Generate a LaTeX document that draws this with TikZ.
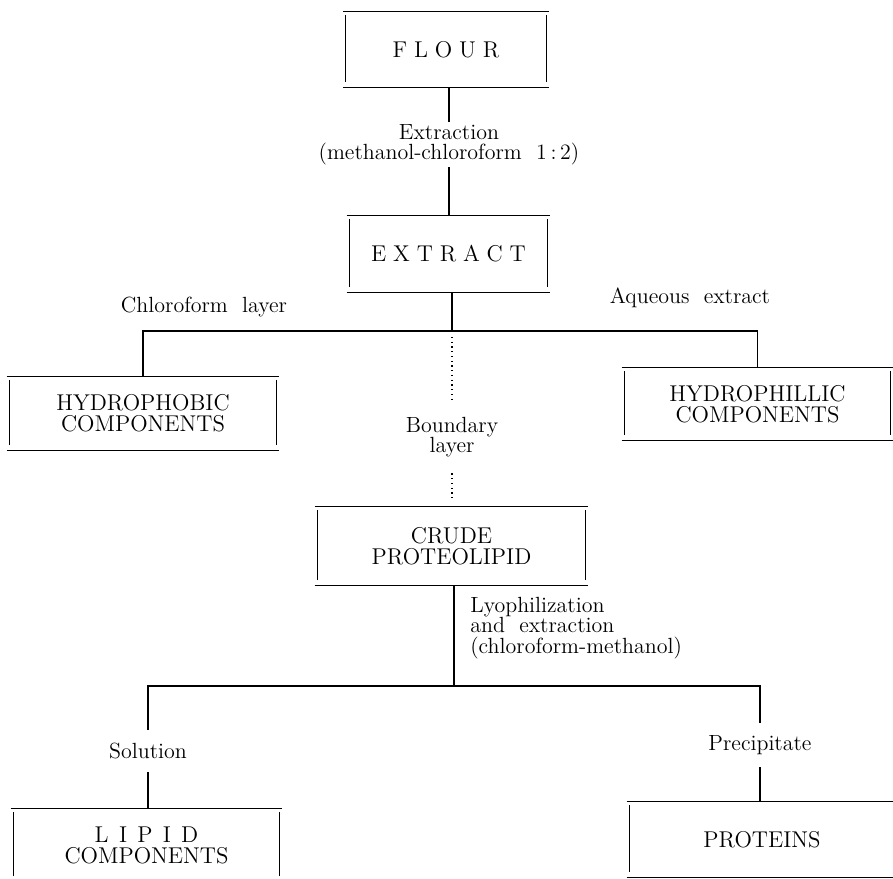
\documentclass[tikz,border=0pt]{standalone}
\usepackage{tikz}
\usetikzlibrary{calc}
\newcommand{\ls}{\hspace{0.3em}}
\newcommand{\lsw}{\hspace{0.45em}}

\begin{document}
\begin{tikzpicture}[
  x=0.02cm, y=-0.02cm,
  font=\fontsize{12.5}{11.5}\selectfont,
  box/.style={inner sep=0pt, align=center,
    font=\fontsize{13}{12}\selectfont},
  bigbox/.style={box, font=\fontsize{13}{14}\selectfont},
  rule/.style={line width=0.8pt},
  side/.style={line width=0.6pt},
  step label/.style={align=center, inner sep=0pt, minimum height=0.9cm},
  note/.style={align=center, inner sep=0pt},
  line/.style={line width=0.6pt},
  dots/.style={line width=0.7pt, dotted}
]
\path[use as bounding box, clip] (0,0) rectangle (893,879);

\node[bigbox, minimum width=4.1cm, minimum height=1.5cm] (flour) at (446,49.5)
  {F\ls L\ls O\ls U\ls R};
\node[step label] (extr) at (449,144.5)
  {Extraction\\(methanol-chloroform\ \ 1\,:\,2)};
\node[bigbox, minimum width=4.06cm, minimum height=1.52cm] (extract) at (448.5,254)
  {E\ls X\ls T\ls R\ls A\ls C\ls T};

\coordinate (split1) at (452,331);
\node[note] (chl) at (204,307) {Chloroform\ \ layer};
\node[note] (aq) at (690,298) {Aqueous\ \ extract};

\node[box, minimum width=5.44cm, minimum height=1.46cm] (phobic) at (143,413.5)
  {HYDROPHOBIC\\COMPONENTS};
\node[box, minimum width=5.42cm, minimum height=1.44cm] (phillic) at (757.5,404)
  {HYDROPHILLIC\\COMPONENTS};

\node[step label, minimum height=1.42cm] (bound) at (452,437.5) {Boundary\\layer};
\node[box, minimum width=5.46cm, minimum height=1.56cm] (crude) at (451.5,546)
  {CRUDE\\PROTEOLIPID};

\coordinate (split2) at (454,686);
\node[note, align=left, anchor=west] (lyo) at (470,628)
  {Lyophilization\\and\ \ extraction\\(chloroform-methanol)};

\node[step label, minimum height=0.84cm] (sol) at (148,751) {Solution};
\node[step label, minimum height=0.88cm] (prec) at (760,745) {Precipitate};

\node[box, minimum width=5.42cm, minimum height=1.44cm] (lipid) at (146.5,845)
  {L\lsw I\lsw P\lsw I\lsw D\\COMPONENTS};
\node[box, minimum width=5.4cm, minimum height=1.5cm] (proteins) at (762,839.5)
  {PROTEINS};

% ruled boxes: long top and bottom rules, short sides
\foreach \b in {flour,extract,phobic,phillic,crude,lipid,proteins} {
  \draw[rule] (\b.north west) -- (\b.north east);
  \draw[rule] (\b.south west) -- (\b.south east);
  \draw[side] ([xshift=1.5pt,yshift=-2pt]\b.north west)
    -- ([xshift=1.5pt,yshift=3pt]\b.south west);
  \draw[side] ([xshift=-1.5pt,yshift=-2pt]\b.north east)
    -- ([xshift=-1.5pt,yshift=3pt]\b.south east);
}

\draw[line] (extr |- flour.south) -- (extr);
\draw[line] (extr) -- (extr |- extract.north);
\draw[line] (split1 |- extract.south) -- (split1);
\draw[line] (phobic.north) |- (split1) -| (phillic.north);
\draw[dots, shorten <=3.4pt] (split1) -- (bound);
\draw[dots, shorten >=2.8pt] (bound) -- (bound |- crude.north);
\draw[line] (split2 |- crude.south) -- (split2);
\draw[line] (sol) |- (split2) -| (prec);
\draw[line] (sol) -- (sol |- lipid.north);
\draw[line] (prec) -- (prec |- proteins.north);
\end{tikzpicture}
\end{document}
